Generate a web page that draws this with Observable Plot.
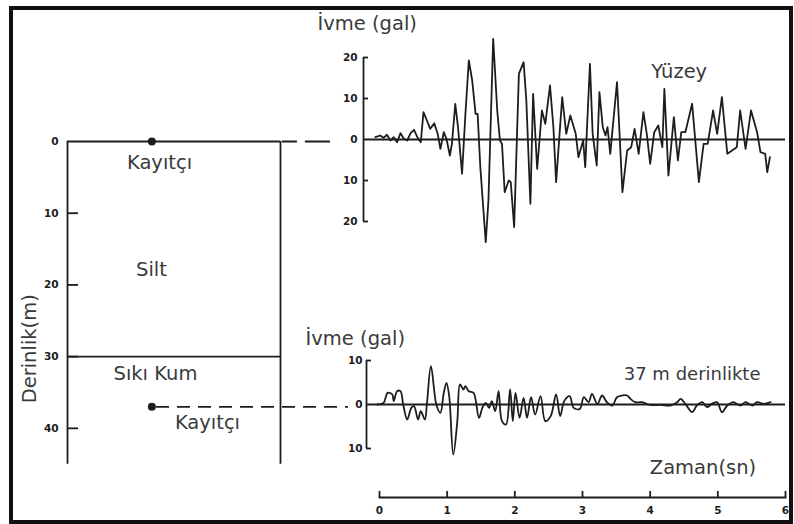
<!DOCTYPE html>
<html>
<head>
<meta charset="utf-8">
<script src="https://cdn.jsdelivr.net/npm/d3@7"></script>
<script src="https://cdn.jsdelivr.net/npm/@observablehq/plot@0.6"></script>
<style>
html, body { margin: 0; padding: 0; background: #fff; }
#chart { position: relative; width: 794px; height: 524px; overflow: hidden; background: #fff; }
#chart svg { position: absolute; left: 0; top: 0; }
#border { position: absolute; left: 9px; top: 6px; width: 776px; height: 510px; border: 4px solid #111; box-sizing: content-box; }
</style>
</head>
<body>
<div id="chart"><div id="border"></div></div>
<script>
// ---------------- data ----------------
const depthTicks = [0, 10, 20, 30, 40];
const layers = [
  {name: "Silt", top: 0, bottom: 30},
  {name: "Sıkı Kum", top: 30, bottom: 45}
];
const recorderDepths = [0, 37];
const recorderLabel = "Kayıtçı";
const depthLabel = "Derinlik(m)";

const accelLabel = "İvme (gal)";
const surfaceName = "Yüzey";
const deepName = "37 m derinlikte";
const timeLabel = "Zaman(sn)";

const surfaceTicks = [-20, -10, 0, 10, 20];
const deepTicks = [-10, 0, 10];
const timeTicks = [0, 1, 2, 3, 4, 5, 6];

// surface record (time s, acceleration gal)
const surfaceTime = [-0.06,0.01,0.06,0.11,0.16,0.21,0.26,0.31,0.36,0.41,
  0.46,0.51,0.56,0.61,0.65,0.70,0.75,0.81,0.86,0.90,
  0.95,0.99,1.04,1.07,1.12,1.16,1.22,1.27,1.32,1.37,
  1.42,1.45,1.49,1.57,1.61,1.68,1.74,1.78,1.81,1.85,
  1.91,1.94,1.99,2.06,2.13,2.17,2.23,2.27,2.33,2.40,
  2.45,2.52,2.57,2.61,2.70,2.76,2.82,2.90,2.94,3.01,
  3.04,3.11,3.15,3.21,3.25,3.30,3.34,3.37,3.41,3.51,
  3.59,3.66,3.72,3.77,3.83,3.90,3.95,4.00,4.06,4.12,
  4.18,4.21,4.27,4.35,4.41,4.46,4.52,4.62,4.72,4.79,
  4.85,4.93,4.99,5.06,5.14,5.21,5.28,5.33,5.41,5.49,
  5.58,5.63,5.70,5.73,5.77];
const surfaceAccel = [0.56,0.98,0.41,1.15,-0.24,0.56,-0.66,1.54,0.17,-0.24,
  1.54,2.37,0.56,-0.66,6.66,4.63,2.61,3.98,1.39,-2.27,
  1.78,0.17,-3.90,-1.05,8.71,3.0,-8.37,6.27,19.27,14.39,
  6.27,6.27,-6.76,-25.05,-14.88,24.56,7.07,-0.24,-1.05,-12.85,
  -10.0,-10.41,-21.39,16.02,18.85,9.51,-15.68,11.15,-7.15,7.07,
  3.83,13.17,3.0,-10.41,10.32,1.39,5.85,1.39,-4.32,-0.24,
  -6.76,18.46,1.39,-6.34,11.54,3.0,0.98,3.0,-3.49,13.98,
  -12.85,-2.68,-1.88,2.61,-3.49,6.66,1.39,-5.93,1.78,3.41,
  -1.88,12.37,-8.78,5.44,-5.12,1.78,1.78,8.71,-10.41,-1.05,
  -1.05,7.07,1.39,10.32,-3.49,-2.68,-1.88,7.07,-2.27,7.07,
  1.78,-3.10,-3.49,-7.98,-4.32];

// record at 37 m depth
const deepTime = [-0.03,0.06,0.12,0.19,0.21,0.26,0.31,0.35,0.41,0.47,
  0.51,0.57,0.61,0.67,0.70,0.76,0.84,0.90,0.95,0.99,
  1.03,1.09,1.15,1.19,1.24,1.27,1.32,1.39,1.47,1.52,
  1.57,1.62,1.66,1.71,1.76,1.81,1.87,1.93,1.97,2.01,
  2.07,2.13,2.18,2.24,2.30,2.38,2.45,2.53,2.61,2.67,
  2.73,2.81,2.87,2.96,3.02,3.09,3.14,3.22,3.29,3.36,
  3.44,3.51,3.59,3.66,3.71,3.78,3.88,4.00,4.15,4.30,
  4.40,4.45,4.52,4.62,4.69,4.77,4.84,4.91,4.99,5.06,
  5.14,5.23,5.33,5.41,5.51,5.58,5.68,5.78];
const deepAccel = [0,0.38,2.65,2.27,0.76,3.03,3.03,0,-3.41,-0.76,
  -0.38,-3.41,-1.52,-3.41,0,8.71,0,-1.89,2.65,4.92,
  1.89,-11.36,-3.79,4.55,3.41,4.17,3.03,2.65,-3.03,-0.76,
  0.38,-0.76,0.76,-1.52,3.03,-3.79,-4.55,3.41,-3.79,2.65,
  -3.03,1.52,-3.03,1.67,-2.27,1.89,-3.79,-2.65,2.27,-2.65,
  0.76,1.89,-0.76,-1.0,1.66,0.52,2.41,0.14,2.05,0.52,
  -0.23,1.66,2.05,2.05,1.27,0.52,0.52,-0.1,-0.1,-0.23,
  0.52,1.27,0.14,-1.75,-0.23,0.52,-0.61,0.14,0.52,-1.75,
  -0.23,0.52,-0.23,0.52,-0.23,0.52,0.14,0.52];

const surfaceData = surfaceTime.map((t, i) => ({t, a: surfaceAccel[i]}));
const deepData = deepTime.map((t, i) => ({t, a: deepAccel[i]}));

// ---------------- styling ----------------
const W = 794, H = 524;
const ink = "#1d1d1d";
const textInk = "#3a3a3a";
const font = "DejaVu Sans, Verdana, sans-serif";
const baseStyle = {background: "none", overflow: "visible", fontFamily: font, position: "absolute", left: "0px", top: "0px"};
const lw = 1.8;
const tickText = {fontSize: 10.5, fontWeight: "bold", fill: ink};
const bigText = {fontSize: 19.5, fill: textInk, lineAnchor: "bottom"};

// ---------------- soil profile ----------------
const profile = Plot.plot({
  width: W, height: H, margin: 0,
  style: baseStyle,
  x: {domain: [0, 1], range: [67, 280], axis: null},
  y: {domain: [0, 45], range: [141, 463.7], axis: null},
  marks: [
    Plot.ruleX([0, 1], {x: d => d, y1: 0, y2: 45, stroke: ink, strokeWidth: lw}),
    Plot.ruleY(layers, {y: "top", x1: 0, x2: 1, stroke: ink, strokeWidth: lw}),
    Plot.ruleY(depthTicks.filter(d => d > 0), {y: d => d, x1: 0, x2: 0.052, stroke: ink, strokeWidth: lw}),
    Plot.text(depthTicks, {x: 0, y: d => d, dx: -9, text: d => String(d), textAnchor: "end", ...tickText}),
    Plot.text([layers[0]], {x: 0.394, y: 18.7, text: "name", ...bigText}),
    Plot.text([layers[1]], {x: 0.413, y: 33.2, text: "name", ...bigText}),
    Plot.ruleY([recorderDepths[0]], {y: d => d, x1: 1.009, x2: 1.235, stroke: ink, strokeWidth: lw, strokeDasharray: "15,8,25"}),
    Plot.ruleY([recorderDepths[1]], {y: d => d, x1: 0.418, x2: 1.319, stroke: ink, strokeWidth: lw, strokeDasharray: "13,8"}),
    Plot.dot(recorderDepths, {x: 0.396, y: d => d, r: 4, fill: ink, stroke: null}),
    Plot.text([recorderDepths[0]], {x: 0.432, y: d => d, dy: 27, text: () => recorderLabel, ...bigText}),
    Plot.text([recorderDepths[1]], {x: 0.657, y: d => d, dy: 22, text: () => recorderLabel, ...bigText}),
    Plot.text([depthLabel], {x: -0.178, y: 28.9, text: d => d, rotate: -90, fontSize: 19.5, fill: textInk})
  ]
});

// ---------------- surface record ----------------
const surfacePlot = Plot.plot({
  width: W, height: H, margin: 0,
  style: baseStyle,
  x: {domain: [0, 6], range: [379, 785], axis: null},
  y: {domain: [-20, 20], range: [221, 57], axis: null},
  marks: [
    Plot.ruleX([0], {x: d => d, y1: -20, y2: 20, dx: -16, stroke: ink, strokeWidth: lw}),
    Plot.ruleY(surfaceTicks.filter(d => d !== 0), {y: d => d, x1: 0, x2: 0.074, dx: -16, stroke: ink, strokeWidth: lw}),
    Plot.ruleY([0], {y: d => d, x1: -0.236, x2: 6, stroke: ink, strokeWidth: lw}),
    Plot.text(surfaceTicks, {x: 0, y: d => d, dx: -22, text: d => String(Math.abs(d)), textAnchor: "end", ...tickText}),
    Plot.line(surfaceData, {x: "t", y: "a", stroke: ink, strokeWidth: 1.8, strokeLinejoin: "round"}),
    Plot.text([surfaceName], {x: 4.43, y: 15.1, text: d => d, ...bigText}),
    Plot.text([accelLabel], {x: -0.916, y: 26.6, text: d => d, textAnchor: "start", ...bigText})
  ]
});

// ---------------- record at 37 m + time axis ----------------
const deepPlot = Plot.plot({
  width: W, height: H,
  marginTop: 491, marginBottom: 27, marginLeft: 379, marginRight: 9,
  style: baseStyle,
  x: {domain: [0, 6], range: [379, 785], axis: null},
  y: {domain: [-10, 10], range: [448, 360], axis: null},
  marks: [
    Plot.ruleX([0], {x: d => d, y1: -10, y2: 10, dx: -13, stroke: ink, strokeWidth: lw}),
    Plot.ruleY(deepTicks.filter(d => d !== 0), {y: d => d, x1: 0, x2: 0.074, dx: -13, stroke: ink, strokeWidth: lw}),
    Plot.ruleY([0], {y: d => d, x1: -0.19, x2: 6, stroke: ink, strokeWidth: lw}),
    Plot.text(deepTicks, {x: 0, y: d => d, dx: -17, text: d => String(Math.abs(d)), textAnchor: "end", ...tickText}),
    Plot.line(deepData, {x: "t", y: "a", stroke: ink, strokeWidth: 1.8, strokeLinejoin: "round", curve: "catmull-rom"}),
    Plot.text([deepName], {x: 4.62, y: 5.68, text: d => d, ...bigText, fontSize: 18}),
    Plot.text([accelLabel], {x: -1.093, y: 13.6, text: d => d, textAnchor: "start", ...bigText}),
    Plot.text([timeLabel], {x: 4.78, y: -15.9, text: d => d, ...bigText}),
    Plot.frame({anchor: "bottom", stroke: ink, strokeWidth: lw}),
    Plot.tickX(timeTicks, {x: d => d, stroke: ink, strokeWidth: lw}),
    Plot.text(timeTicks, {x: d => d, frameAnchor: "bottom", dy: 16, text: d => String(d), lineAnchor: "bottom", ...tickText})
  ]
});

const chart = document.getElementById("chart");
chart.appendChild(profile);
chart.appendChild(surfacePlot);
chart.appendChild(deepPlot);
</script>
</body>
</html>
